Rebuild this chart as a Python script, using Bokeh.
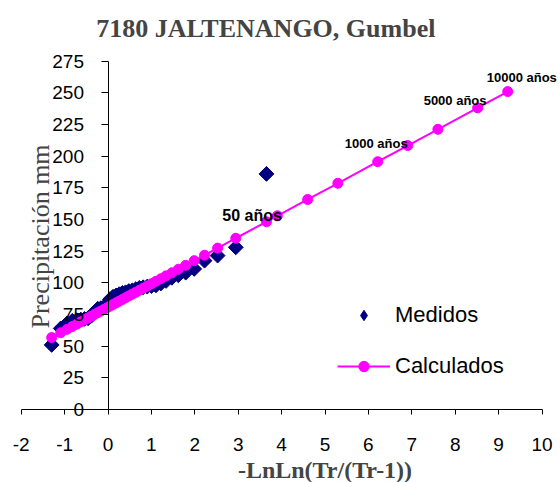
import math
from bokeh.plotting import figure
from bokeh.models import Range1d, FixedTicker, Label, Legend, LegendItem
from bokeh.embed import file_html
from bokeh.resources import INLINE

# ---------------- data ----------------
# Measured annual maxima (Gumbel reduced variate, precipitation mm)
x_obs = [3.651, 2.944, 2.525, 2.224, 1.986, 1.790, 1.620, 1.472, 1.338, 1.217,
         1.105, 1.000, 0.903, 0.810, 0.723, 0.639, 0.558, 0.480, 0.404, 0.330,
         0.257, 0.186, 0.116, 0.046, -0.024, -0.094, -0.164, -0.236, -0.308, -0.383,
         -0.460, -0.541, -0.627, -0.720, -0.823, -0.942, -1.089, -1.298]
p_obs = [186, 128, 121.5, 117.5, 111, 108, 106, 104, 101.5, 99.5,
         98, 97.5, 97, 96.5, 96, 95, 94, 93.5, 92.5, 92,
         91, 90, 89, 87, 83, 81, 80, 79.5, 77, 74,
         72, 71.5, 71, 70.5, 70, 68, 64, 51]

# Calculated (Gumbel fit)
x_calc = [-1.298, -1.089, -0.942, -0.823, -0.720, -0.627, -0.541, -0.460, -0.383, -0.308,
          -0.236, -0.164, -0.094, -0.024, 0.046, 0.116, 0.186, 0.257, 0.330, 0.404,
          0.480, 0.558, 0.639, 0.723, 0.810, 0.903, 1.000, 1.105, 1.217, 1.338,
          1.472, 1.620, 1.790, 1.986, 2.224, 2.525, 2.944, 3.651,
          3.902, 4.600, 5.296, 6.214, 6.907, 7.601, 8.517, 9.210]
p_calc = [56.8, 60.6, 63.3, 65.5, 67.4, 69.2, 70.8, 72.2, 73.7, 75.1,
          76.4, 77.7, 79.0, 80.3, 81.6, 82.9, 84.2, 85.5, 86.8, 88.2,
          89.6, 91.1, 92.5, 94.1, 95.7, 97.4, 99.2, 101.2, 103.2, 105.5,
          107.9, 110.7, 113.8, 117.5, 121.8, 127.4, 135.2, 148.2,
          152.9, 165.8, 178.6, 195.6, 208.4, 221.2, 238.1, 251.0]

# Return-period labels (attached to calculated points)
label_x = [3.902, 6.907, 8.517, 9.210]
label_p = [152.9, 208.4, 238.1, 251.0]
label_text = ["50 años", "1000 años", "5000 años", "10000 años"]

x_ticks = [-2, -1, 0, 1, 2, 3, 4, 5, 6, 7, 8, 9, 10]
y_ticks = [0, 25, 50, 75, 100, 125, 150, 175, 200, 225, 250, 275]

title_text = "7180 JALTENANGO,  Gumbel"
x_title = "-LnLn(Tr/(Tr-1))"
y_title = "Precipitación mm"

# ---------------- figure ----------------
# The frame fills the whole canvas; both axes are fixed at x=0 / y=0 and
# bounded to the chart's axis extents (-2..10, 0..275).
p = figure(width=560, height=482, output_backend="svg", toolbar_location=None,
           x_range=Range1d(-2.477, 10.426), y_range=Range1d(-57.64, 322.9),
           title=None, min_border=0, min_border_left=0, min_border_right=0,
           min_border_top=0, min_border_bottom=0)
p.outline_line_color = None
p.xgrid.visible = False
p.ygrid.visible = False
p.background_fill_color = "white"
p.border_fill_color = "white"

SANS = "Liberation Sans"
SERIF = "Liberation Serif"

# x axis at y = 0
xa = p.xaxis[0]
xa.fixed_location = 0
xa.bounds = (-2, 10)
xa.ticker = FixedTicker(ticks=x_ticks)
xa.major_label_overrides = {-2: "-2", -1: "-1"}
xa.minor_tick_line_color = None
xa.major_tick_out = 5
xa.major_tick_in = 0
xa.major_label_standoff = 24
xa.major_label_text_font = SANS
xa.major_label_text_font_size = "19px"
xa.major_label_text_color = "black"
xa.axis_line_color = "black"
xa.major_tick_line_color = "black"

# y axis at x = 0
ya = p.yaxis[0]
ya.fixed_location = 0
ya.bounds = (0, 275)
ya.ticker = FixedTicker(ticks=y_ticks)
ya.minor_tick_line_color = None
ya.major_tick_out = 7
ya.major_tick_in = 0
ya.major_label_standoff = 17
ya.major_label_text_font = SANS
ya.major_label_text_font_size = "19px"
ya.major_label_text_color = "black"
ya.axis_line_color = "black"
ya.major_tick_line_color = "black"

NAVY = "#000080"
MAGENTA = "#FF00FF"

# legend key for the measured series: a diamond marker drawn underneath the
# (rotated-square) measured markers, so it only shows in the legend
r_obs_key = p.scatter(x_obs, p_obs, marker="diamond", size=13,
                      fill_color=NAVY, line_color=NAVY)
# data
r_obs = p.scatter(x_obs, p_obs, marker="square", angle=math.pi / 4,
                  size=10.5, fill_color=NAVY, line_color=NAVY)
r_line = p.line(x_calc, p_calc, line_color=MAGENTA, line_width=2)
r_circ = p.scatter(x_calc, p_calc, marker="circle", size=10,
                   fill_color=MAGENTA, line_color=MAGENTA)

# return-period labels
offsets = [(-55, 0), (-63, 2), (-54, 7), (-21, 14)]
sizes = ["16px", "13px", "13px", "13px"]
for xv, pv, t, (dx, dy), fs in zip(label_x, label_p, label_text, offsets, sizes):
    p.add_layout(Label(x=xv, y=pv, text=t, x_offset=dx, y_offset=dy,
                       text_font=SANS, text_font_style="bold",
                       text_font_size=fs, text_color="black",
                       text_align="left", text_baseline="alphabetic"))

# titles
p.add_layout(Label(x=3.71, y=300.6, text=title_text, text_font=SERIF,
                   text_font_style="bold", text_font_size="26px",
                   text_align="center", text_baseline="alphabetic"))
p.add_layout(Label(x=5, y=-47.5, text=x_title, text_font=SERIF,
                   text_font_style="bold", text_font_size="24px",
                   text_align="center", text_baseline="alphabetic"))
p.add_layout(Label(x=-1.555, y=136.6, text=y_title, text_font=SERIF,
                   text_font_size="26px", angle=math.pi / 2,
                   text_align="center", text_baseline="middle"))

# legend
legend = Legend(items=[LegendItem(label="Medidos", renderers=[r_obs_key]),
                       LegendItem(label="Calculados", renderers=[r_line, r_circ])],
                location=(337, 103), orientation="vertical")
legend.border_line_color = None
legend.background_fill_alpha = 0
legend.padding = 0
legend.margin = 0
legend.glyph_width = 53
legend.glyph_height = 26
legend.label_height = 26
legend.spacing = 25
legend.label_standoff = 5
legend.label_text_font = SANS
legend.label_text_font_size = "22px"
legend.label_text_color = "black"
p.add_layout(legend, "center")

open("out.html", "w").write(file_html(p, INLINE))
